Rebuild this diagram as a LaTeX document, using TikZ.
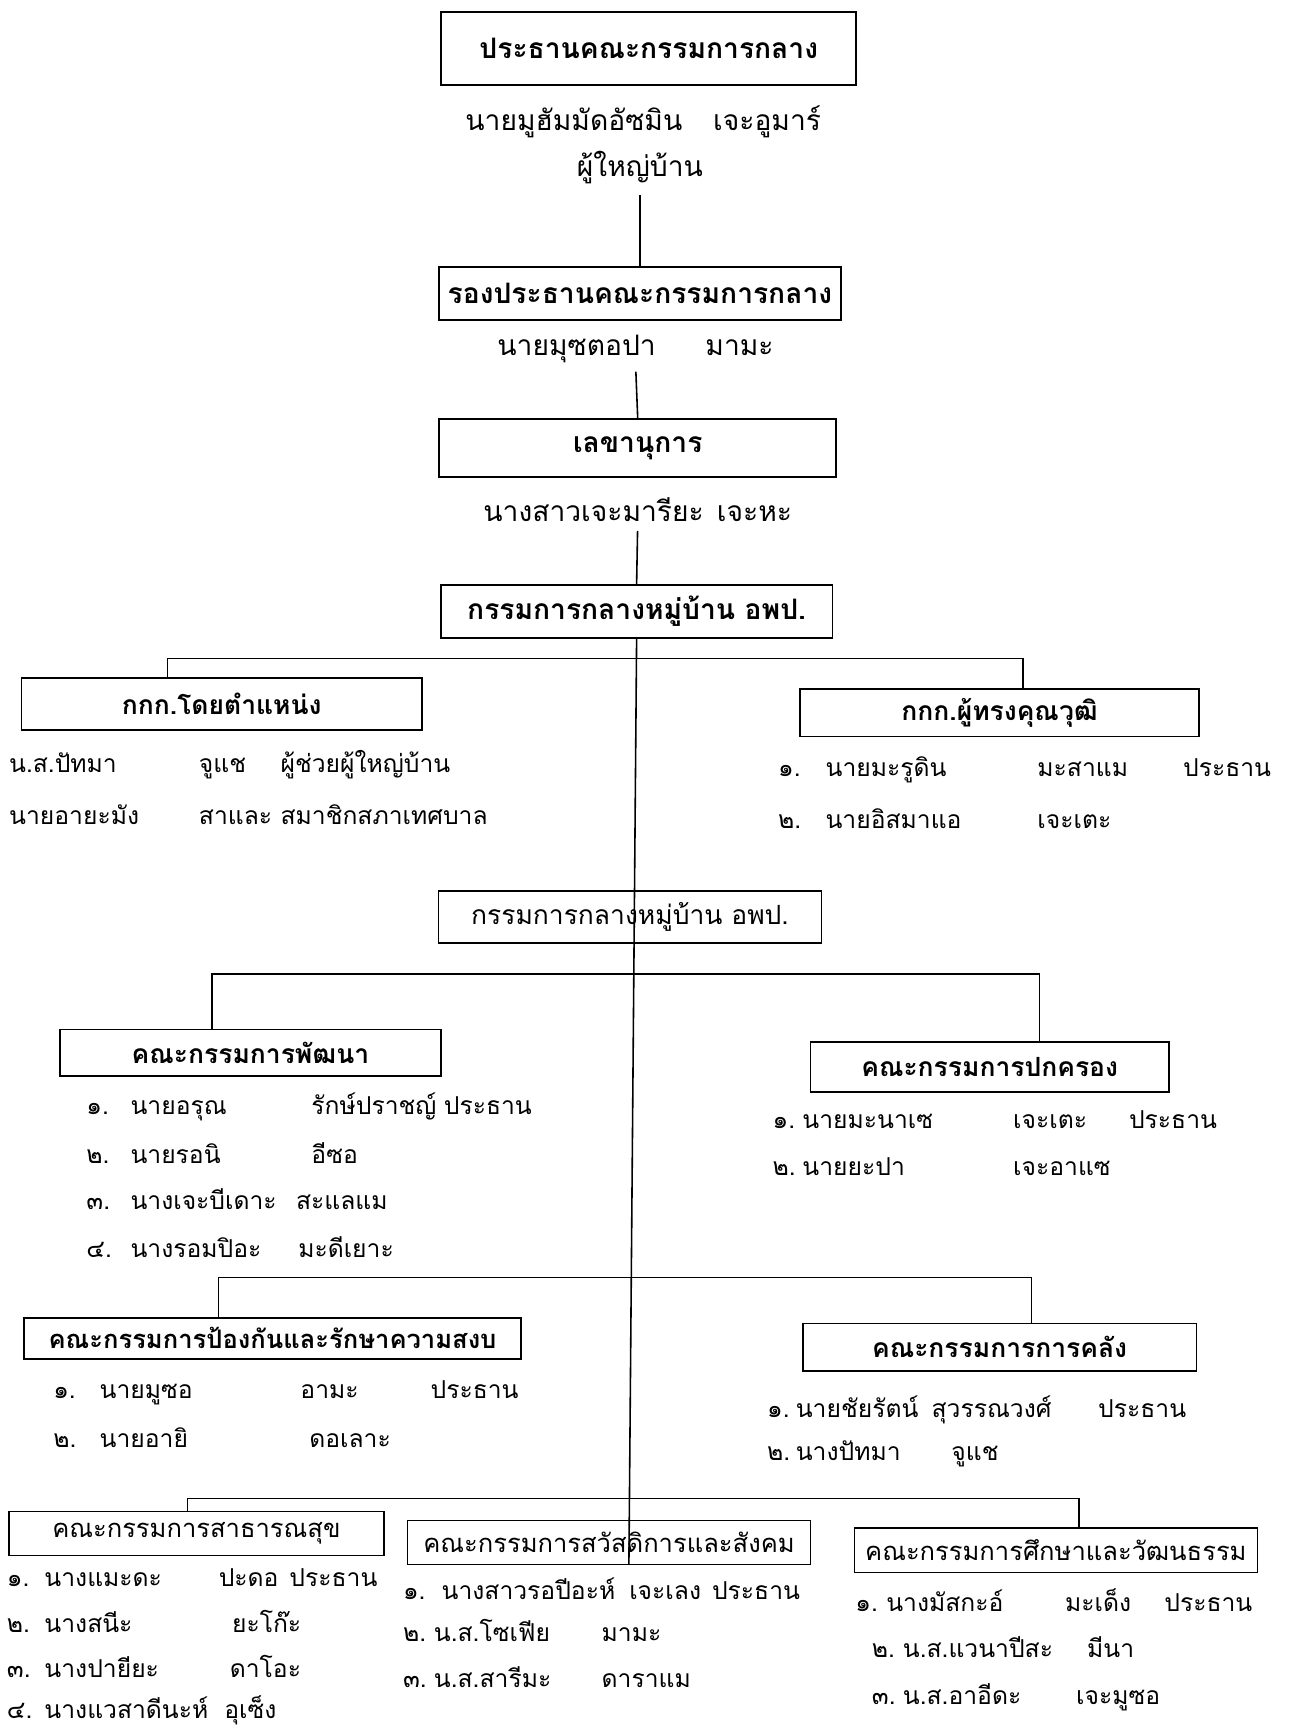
\documentclass[tikz,border=0pt]{standalone}
\usepackage{fontspec}
\newfontfamily\thai[Script=Thai]{Loma}
\newlength\pu
\setlength\pu{0.022cm}
% member line: three column widths, then number, name, surname, role
\newcommand{\mrow}[7]{\makebox[#1\pu][l]{#4}\makebox[#2\pu][l]{#5}\makebox[#3\pu][l]{#6}#7}
\tikzset{
  headbox/.style={draw, line width=1pt, inner sep=0pt, font=\thai\bfseries\fontsize{16}{18}\selectfont},
  unitbox/.style={draw, line width=1pt, inner sep=0pt, font=\thai\bfseries\fontsize{15}{18}\selectfont},
  plainbox/.style={draw, line width=0.8pt, inner sep=0pt, font=\thai\fontsize{14.5}{17}\selectfont},
  boxsize/.style 2 args={minimum width=#1*\pu, minimum height=#2*\pu},
  person/.style={inner sep=0pt, font=\thai\fontsize{16}{19}\selectfont},
  member/.style={anchor=west, inner sep=0pt, font=\thai\fontsize{14}{17}\selectfont},
  link/.style={line width=0.9pt}
}
\begin{document}
\begin{tikzpicture}[x=0.022cm, y=-0.022cm]
    \useasboundingbox (0,0) rectangle (1168,1568);

    % chain at the top
    \node[headbox, boxsize={376}{66}] (chair) at (588,44) {ประธานคณะกรรมการกลาง};
    \node[person] (chairname) at (583,110) {นายมูฮัมมัดอัซมิน\hspace{28\pu}เจะอูมาร์};
    \node[person] (chairrole) at (580,152) {ผู้ใหญ่บ้าน};
    \node[headbox, boxsize={364}{48}] (vice) at (580,266) {รองประธานคณะกรรมการกลาง};
    \node[person] (vicename) at (576,316) {นายมุซตอปา\hspace{45\pu}มามะ};
    \node[headbox, boxsize={360}{52}] (secretary) at (578,406) {เลขานุการ};
    \node[person] (secname) at (578,462) {นางสาวเจะมารียะ\hspace{12\pu}เจะหะ};
    \node[headbox, boxsize={355}{48}] (hamlet) at (577,554) {กรรมการกลางหมู่บ้าน อพป.};

    \draw[link, shorten <=6pt] (chairrole.south) -- (vice.north);
    \draw[link, shorten <=5pt] (vicename.south) -- (secretary.north);
    \draw[link, shorten <=5pt] (secname.south) -- (hamlet.north);

    % first branch
    \node[unitbox, boxsize={363}{47}] (exofficio) at (201,638) {กกก.โดยตำแหน่ง};
    \node[unitbox, boxsize={362}{43}] (expert) at (906,646) {กกก.ผู้ทรงคุณวุฒิ};
    \foreach \i/\y/\nm/\sn/\rl in {1/693/{น.ส.ปัทมา}/{จูแช}/{ผู้ช่วยผู้ใหญ่บ้าน},
                                    2/738/{นายอายะมัง}/{สาและ}/{สมาชิกสภาเทศบาล}}
        \node[member] (exo\i) at (8,\y) {\mrow{0}{172}{74}{}{\nm}{\sn}{\rl}};
    \foreach \i/\y/\no/\nm/\sn/\rl in {1/698/{๑.}/{นายมะรูดิน}/{มะสาแม}/{ประธาน},
                                        2/742/{๒.}/{นายอิสมาแอ}/{เจะเตะ}/{}}
        \node[member] (exp\i) at (705,\y) {\mrow{43}{192}{132}{\no}{\nm}{\sn}{\rl}};

    \node[plainbox, boxsize={347}{47}, font=\thai\fontsize{15}{18}\selectfont] (hamlettwo) at (571,831) {กรรมการกลางหมู่บ้าน อพป.};

    % second branch
    \node[unitbox, boxsize={345}{42}] (develop) at (227,954) {คณะกรรมการพัฒนา};
    \node[unitbox, boxsize={325}{45}] (govern) at (897,967) {คณะกรรมการปกครอง};
    \foreach \i/\y/\w/\no/\nm/\sn/\rl in {1/1003/164/{๑.}/{นายอรุณ}/{รักษ์ปราชญ์}/{ประธาน},
                                           2/1045/164/{๒.}/{นายรอนิ}/{อีซอ}/{},
                                           3/1087/150/{๓.}/{นางเจะบีเดาะ}/{สะแลแม}/{},
                                           4/1130/152/{๔.}/{นางรอมปิอะ}/{มะดีเยาะ}/{}}
        \node[member] (dev\i) at (78,\y) {\mrow{40}{\w}{120}{\no}{\nm}{\sn}{\rl}};
    \foreach \i/\y/\no/\nm/\sn/\rl in {1/1015/{๑.}/{นายมะนาเซ}/{เจะเตะ}/{ประธาน},
                                        2/1057/{๒.}/{นายยะปา}/{เจะอาแซ}/{}}
        \node[member] (gov\i) at (700,\y) {\mrow{27}{191}{105}{\no}{\nm}{\sn}{\rl}};

    % third branch
    \node[unitbox, boxsize={450}{37}, font=\thai\bfseries\fontsize{14.5}{17}\selectfont] (peace) at (247,1213) {คณะกรรมการป้องกันและรักษาความสงบ};
    \node[unitbox, boxsize={357}{43}] (finance) at (906,1221) {คณะกรรมการการคลัง};
    \foreach \i/\y/\w/\no/\nm/\sn/\rl in {1/1262/182/{๑.}/{นายมูซอ}/{อามะ}/{ประธาน},
                                           2/1303/190/{๒.}/{นายอายิ}/{ดอเลาะ}/{}}
        \node[member] (pea\i) at (48,\y) {\mrow{42}{\w}{118}{\no}{\nm}{\sn}{\rl}};
    \foreach \i/\y/\w/\no/\nm/\sn/\rl in {1/1278/123/{๑.}/{นายชัยรัตน์}/{สุวรรณวงศ์}/{ประธาน},
                                           2/1318/141/{๒.}/{นางปัทมา}/{จูแช}/{}}
        \node[member] (fin\i) at (695,\y) {\mrow{26}{\w}{151}{\no}{\nm}{\sn}{\rl}};

    % fourth branch
    \node[plainbox, boxsize={340}{40}] (health) at (178,1390) {คณะกรรมการสาธารณสุข};
    \node[plainbox, boxsize={365}{40}] (welfare) at (552,1398) {คณะกรรมการสวัสดิการและสังคม};
    \node[plainbox, boxsize={365}{40}] (culture) at (957,1405) {คณะกรรมการศึกษาและวัฒนธรรม};
    \foreach \i/\y/\w/\no/\nm/\sn/\rl in {1/1430/158/{๑.}/{นางแมะดะ}/{ปะดอ}/{ประธาน},
                                           2/1470/170/{๒.}/{นางสนีะ}/{ยะโก๊ะ}/{},
                                           3/1510/168/{๓.}/{นางปายียะ}/{ดาโอะ}/{},
                                           4/1550/163/{๔.}/{นางแวสาดีนะห์}/{อุเซ็ง}/{}}
        \node[member] (hea\i) at (6,\y) {\mrow{34}{\w}{64}{\no}{\nm}{\sn}{\rl}};
    \foreach \i/\y/\a/\w/\no/\nm/\sn/\rl in {1/1440/35/170/{๑.}/{นางสาวรอปีอะห์}/{เจะเลง}/{ประธาน},
                                              2/1478/28/152/{๒.}/{น.ส.โซเฟีย}/{มามะ}/{},
                                              3/1520/28/152/{๓.}/{น.ส.สารีมะ}/{ดาราแม}/{}}
        \node[member] (wel\i) at (365,\y) {\mrow{\a}{\w}{75}{\no}{\nm}{\sn}{\rl}};
    \foreach \i/\x/\y/\w/\no/\nm/\sn/\rl in {1/775/1450/162/{๑.}/{นางมัสกะอ์}/{มะเด็ง}/{ประธาน},
                                              2/790/1493/167/{๒.}/{น.ส.แวนาปีสะ}/{มีนา}/{},
                                              3/790/1538/157/{๓.}/{น.ส.อาอีดะ}/{เจะมูซอ}/{}}
        \node[member] (cul\i) at (\x,\y) {\mrow{28}{\w}{90}{\no}{\nm}{\sn}{\rl}};

    % spine and branch lines
    \coordinate (spineend) at (570,1418);
    \draw[link] (hamlet.south) -- (spineend);
    \coordinate (b1l) at (152,597);
    \coordinate (b1r) at (927,597);
    \draw[link] (exofficio.north -| b1l) -- (b1l) -- (b1r) -- (expert.north -| b1r);
    \coordinate (b2l) at (192,883);
    \coordinate (b2r) at (942,883);
    \draw[link] (develop.north -| b2l) -- (b2l) -- (b2r) -- (govern.north -| b2r);
    \coordinate (b3l) at (198,1158);
    \coordinate (b3r) at (935,1158);
    \draw[link] (peace.north -| b3l) -- (b3l) -- (b3r) -- (finance.north -| b3r);
    \coordinate (b4l) at (170,1358);
    \coordinate (b4r) at (978,1358);
    \draw[link] (health.north -| b4l) -- (b4l) -- (b4r) -- (culture.north -| b4r);
\end{tikzpicture}
\end{document}
